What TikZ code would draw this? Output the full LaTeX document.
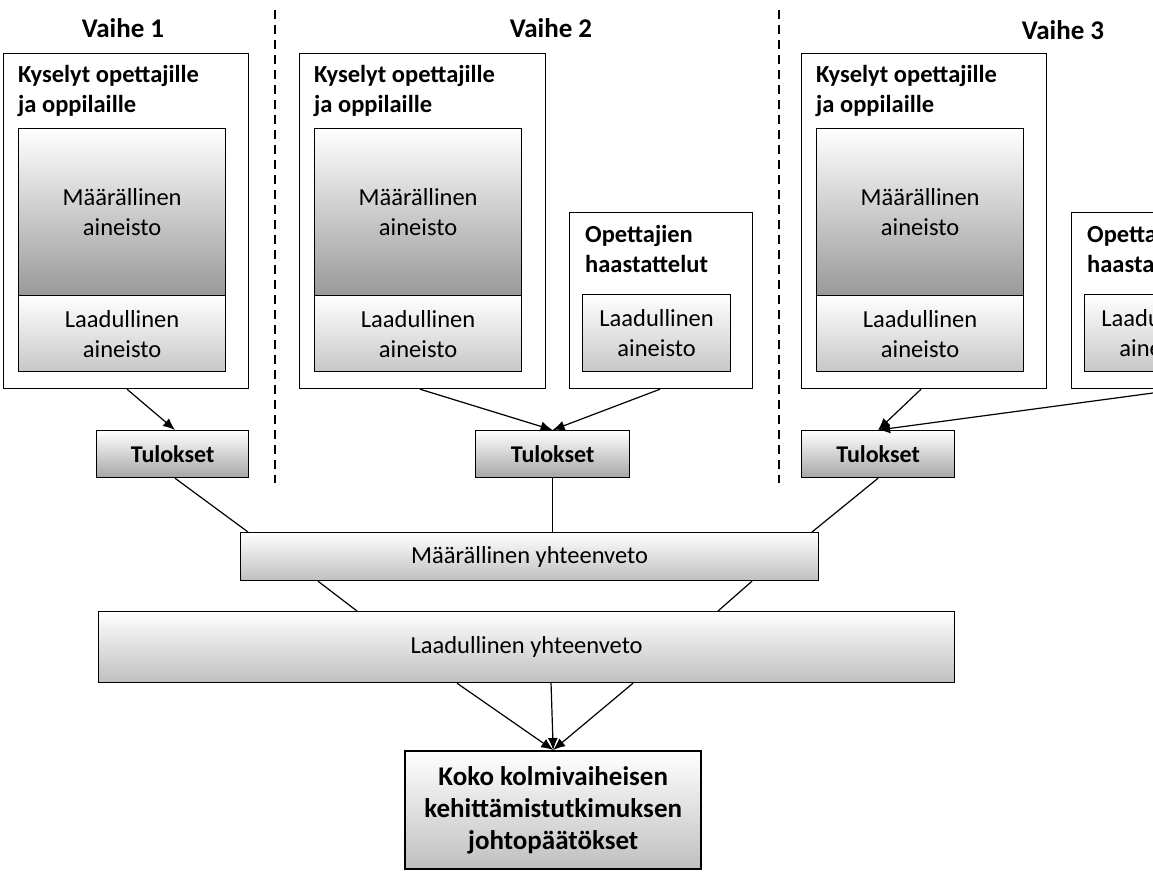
\documentclass[tikz,border=0pt]{standalone}
\usepackage{fontspec}
\setmainfont{Carlito}
\usetikzlibrary{calc,arrows.meta}
\begin{document}
\begin{tikzpicture}[x=1pt,y=-1pt,
  box/.style={draw=black,line width=1.2pt,fill=white,anchor=north west,inner sep=0pt},
  gq/.style={box,top color=white,bottom color=black!40,align=center,font=\fontsize{24.5}{30}\selectfont},
  gl/.style={box,top color=white,bottom color=black!22,align=center,font=\fontsize{24.5}{30}\selectfont},
  ttl/.style={anchor=north west,align=left,inner sep=0pt,font=\bfseries\fontsize{24.5}{30}\selectfont},
  hd/.style={font=\bfseries\fontsize{27}{30}\selectfont},
  ln/.style={line width=1.2pt},
  ar/.style={line width=1.2pt,-{Latex[length=12pt,width=10pt]}}]
\useasboundingbox (0,0) rectangle (1153,886);
\clip (0,0) rectangle (1153,886);
% headings
\node[hd] (h1) at (123,28) {Vaihe 1};
\node[hd] (h2) at (551,28) {Vaihe 2};
\node[hd] (h3) at (1063,30) {Vaihe 3};
\coordinate (d1a) at (275,10); \coordinate (d1b) at (275,483);
\coordinate (d2a) at (779,10); \coordinate (d2b) at (779,483);
\draw[ln,dash pattern=on 9pt off 6pt] (d1a) -- (d1b);
\draw[ln,dash pattern=on 9pt off 6pt] (d2a) -- (d2b);
\coordinate (y1a) at (248,532); \coordinate (y3a) at (812,532);
\coordinate (l1a) at (357,611); \coordinate (l3a) at (718,611);
\coordinate (lmid) at (551,682);
% stage boxes
\node[box,minimum width=245,minimum height=335] (s1) at (3,53) {};
\node[box,minimum width=246,minimum height=335] (s2) at (299,53) {};
\node[box,minimum width=183,minimum height=176] (o2) at (569,212) {};
\node[box,minimum width=245,minimum height=335] (s3) at (801,53) {};
\node[box,minimum width=100,minimum height=176] (o3) at (1071,212) {};
\foreach \n/\x in {1/18,2/314,3/816}{
  \node[ttl] (k\n) at (\x,65) {Kyselyt opettajille\\ja oppilaille};
  \node[gq,minimum width=207,minimum height=167] (m\n) at (\x,128) {Määrällinen\\aineisto};
  \node[gl,minimum width=207,minimum height=76] (q\n) at (\x,295) {Laadullinen\\aineisto};
}
\node[ttl] (ot2) at (585,225) {Opettajien\\haastattelut};
\node[ttl] (ot3) at (1087,225) {Opettajien\\haastattelut};
\node[gl,minimum width=148,minimum height=77] (oq2) at (582,294) {Laadullinen\\aineisto};
\node[gl,minimum width=148,minimum height=77] (oq3) at (1084,294) {Laadullinen\\aineisto};
% results
\node[gl,bottom color=black!35,minimum width=152,minimum height=47,font=\bfseries\fontsize{24}{26}\selectfont] (t1) at (96,430) {Tulokset};
\node[gl,bottom color=black!35,minimum width=154,minimum height=47,font=\bfseries\fontsize{24}{26}\selectfont] (t2) at (475,430) {Tulokset};
\node[gl,bottom color=black!35,minimum width=153,minimum height=47,font=\bfseries\fontsize{24}{26}\selectfont] (t3) at (801,430) {Tulokset};
\draw[ar] ($(s1.south west)+(124,0)$) -- ($(t1.north west)+(79,0)$);
\draw[ar] ($(s2.south west)+(121,0)$) -- (t2.north);
\draw[ar] ($(o2.south west)+(91,0)$) -- (t2.north);
\draw[ar] ($(s3.south west)+(120,0)$) -- (t3.north);
\coordinate (o3e) at (1153,393);
\draw[ar] (o3e) -- (t3.north);
\draw[ln] ($(t1.south west)+(79,0)$) -- (y1a);
\draw[ln] (t2.south) -- ++(0,55);
\draw[ln] (t3.south) -- (y3a);
\node[gl,bottom color=black!25,minimum width=578,minimum height=48] (my) at (240,532) {Määrällinen yhteenveto};
\draw[ln] ($(my.south west)+(78,0)$) -- (l1a);
\draw[ln] ($(my.south west)+(512,0)$) -- (l3a);
\node[gl,bottom color=black!25,minimum width=856,minimum height=71] (ly) at (98,611) {Laadullinen yhteenveto};
\node[gl,bottom color=black!25,line width=2.4pt,minimum width=296,minimum height=118,font=\bfseries\fontsize{27}{32}\selectfont] (fin) at (404,750) {Koko kolmivaiheisen\\kehittämistutkimuksen\\johtopäätökset};
\draw[ar] ($(ly.south west)+(359,0)$) -- (fin.north);
\draw[ar] (lmid) -- (fin.north);
\draw[ar] ($(ly.south west)+(535,0)$) -- (fin.north);
\end{tikzpicture}
\end{document}
